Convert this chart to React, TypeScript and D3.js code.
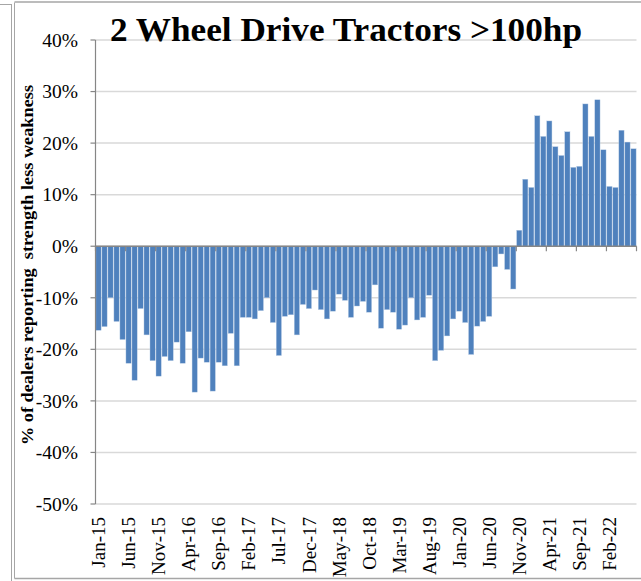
import React from "react";
import * as d3 from "d3";

const startMonth = new Date(2015, 0, 1);
const endMonth = new Date(2022, 6, 1);
const fmt = d3.timeFormat("%b-%y");
const categories: string[] = d3.timeMonth.range(startMonth, endMonth).map((d) => fmt(d));

const values: number[] = [
  -16.3, -15.6, -10.0, -14.6, -18.1, -22.7, -26.0, -12.1, -17.2, -22.2,
  -25.2, -21.4, -22.2, -18.6, -22.7, -16.6, -28.3, -21.7, -22.5, -28.1,
  -22.5, -23.2, -16.9, -23.2, -13.8, -13.8, -14.1, -12.5, -10.0, -14.8,
  -21.2, -13.6, -13.3, -17.2, -11.3, -12.1, -8.5, -12.3, -14.1, -12.6,
  -9.3, -10.5, -13.8, -11.6, -10.7, -12.8, -7.5, -15.9, -12.3, -12.8,
  -16.1, -15.3, -10.0, -14.3, -13.8, -9.5, -22.2, -20.2, -17.4, -14.1,
  -12.6, -14.8, -21.0, -15.5, -14.6, -13.6, -4.0, -1.5, -4.5, -8.3,
  3.1, 13.0, 11.4, 25.3, 21.3, 24.3, 19.3, 17.6, 22.2, 15.3,
  15.5, 27.6, 21.3, 28.4, 18.7, 11.6, 11.4, 22.5, 20.2, 18.9,
];

const xTickLabels: string[] = [
  "Jan-15", "Jun-15", "Nov-15", "Apr-16", "Sep-16", "Feb-17", "Jul-17", "Dec-17", "May-18",
  "Oct-18", "Mar-19", "Aug-19", "Jan-20", "Jun-20", "Nov-20", "Apr-21", "Sep-21", "Feb-22",
];
const yTicks: number[] = [40, 30, 20, 10, 0, -10, -20, -30, -40, -50];

const title = "2 Wheel Drive Tractors >100hp";
const yTitle = "% of dealers reporting  strength less weakness";

export default function App() {
  const W = 641;
  const H = 581;
  const left = 95.5;
  const right = 636.5;
  const top = 40;
  const bottom = 504;

  const x = d3.scaleBand<string>().domain(categories).range([left, right]).paddingInner(0.13).paddingOuter(0.065);
  const y = d3.scaleLinear().domain([-50, 40]).range([bottom, top]);
  const font = "'Liberation Serif', 'Times New Roman', serif";
  const axisColor = "#868686";
  const gridColor = "#d9d9d9";
  const catStart = (i: number) => left + i * ((right - left) / categories.length);

  return (
    <svg width={W} height={H} style={{ position: "absolute", left: 0, top: 0, background: "#fff" }}>
      {/* frame */}
      <line x1={0} x2={11} y1={4.5} y2={4.5} stroke="#a6a6a6" />
      <line x1={11.5} x2={11.5} y1={4} y2={581} stroke="#a6a6a6" />
      <line x1={14.5} x2={14.5} y1={2.5} y2={578.5} stroke="#a6a6a6" />
      <line x1={14.5} x2={641} y1={2} y2={2} stroke="#a6a6a6" strokeWidth={1.5} />
      <line x1={14.5} x2={641} y1={578.5} y2={578.5} stroke="#a6a6a6" strokeWidth={1.5} />

      {/* gridlines */}
      {yTicks.map((t) => (
        <line key={"g" + t} x1={left} x2={right} y1={y(t)} y2={y(t)} stroke={gridColor} strokeWidth={1.5} />
      ))}

      {/* bars */}
      {values.map((v, i) => (
        <rect
          key={categories[i]}
          x={x(categories[i])}
          width={x.bandwidth()}
          y={Math.min(y(v), y(0))}
          height={Math.abs(y(v) - y(0))}
          fill="#4f81bd"
          stroke="#b9cde5"
          strokeWidth={0.4}
        />
      ))}

      {/* y axis */}
      <line x1={left} x2={left} y1={top} y2={bottom} stroke={axisColor} strokeWidth={1.2} />
      {yTicks.map((t) => (
        <g key={"yt" + t}>
          <line x1={left - 5} x2={left} y1={y(t)} y2={y(t)} stroke={axisColor} strokeWidth={1.2} />
          <text x={78} y={y(t)} dy="0.35em" textAnchor="end" fontFamily={font} fontSize={19.5} fill="#000">
            {t + "%"}
          </text>
        </g>
      ))}

      {/* category axis at zero */}
      <line x1={left} x2={right} y1={y(0)} y2={y(0)} stroke={axisColor} strokeWidth={1.5} />
      {d3.range(0, categories.length + 1, 5).concat(categories.length % 5 ? [categories.length] : []).map((i) => (
        <line key={"xt" + i} x1={catStart(i)} x2={catStart(i)} y1={y(0)} y2={y(0) + 5} stroke={axisColor} strokeWidth={1.2} />
      ))}

      {/* x tick labels */}
      {xTickLabels.map((lab) => {
        const cx = (x(lab) ?? 0) + x.bandwidth() / 2;
        return (
          <text
            key={"xl" + lab}
            transform={`translate(${cx},${517}) rotate(-90)`}
            textAnchor="end"
            dy="0.35em"
            fontFamily={font}
            fontSize={19}
            fill="#000"
          >
            {lab}
          </text>
        );
      })}

      {/* y title */}
      <text
        transform={`translate(33,${265}) rotate(-90)`}
        textAnchor="middle"
        fontFamily={font}
        fontSize={16.5}
        fontWeight="bold"
        fill="#000"
        textLength={360}
        lengthAdjust="spacingAndGlyphs"
        style={{ whiteSpace: "pre" }}
      >
        {yTitle}
      </text>

      {/* title */}
      <text
        x={346}
        y={41}
        textAnchor="middle"
        fontFamily={font}
        fontSize={34}
        fontWeight="bold"
        fill="#000"
        textLength={472}
        lengthAdjust="spacingAndGlyphs"
      >
        {title}
      </text>
    </svg>
  );
}
